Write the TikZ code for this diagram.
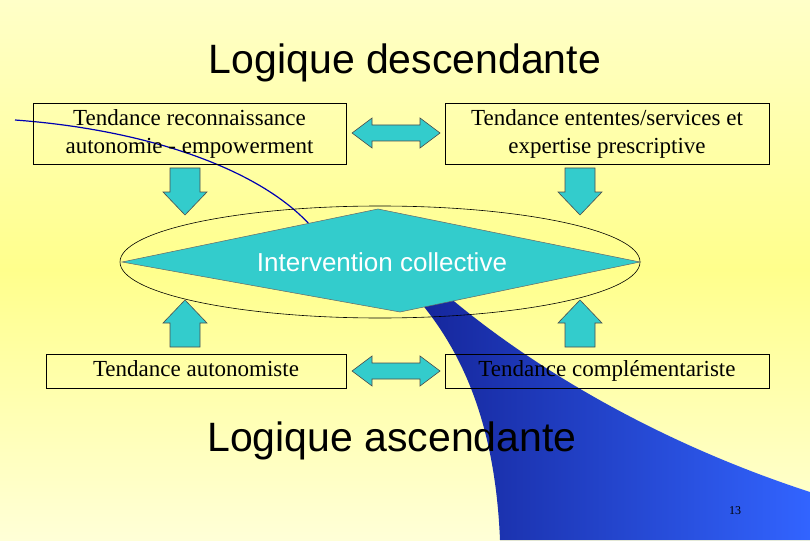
\documentclass[tikz,border=0pt]{standalone}
\usepackage{fontspec}
\setmainfont{Liberation Serif}
\setsansfont{Liberation Sans}
\begin{document}
\begin{tikzpicture}[x=1pt,y=-1pt,
 box/.style={draw=black,line width=0.6pt,font=\fontsize{23}{28}\selectfont,align=center,inner sep=0pt}]
\definecolor{tq}{HTML}{33CCCC}
\shade[top color={rgb,255:red,255;green,255;blue,200},bottom color={rgb,255:red,255;green,255;blue,140}] (0,0) rectangle (810,270);
\shade[top color={rgb,255:red,255;green,255;blue,140},bottom color={rgb,255:red,255;green,255;blue,215}] (0,270) rectangle (810,540);
\useasboundingbox (0,0) rectangle (810,540);
% swoosh
\draw[blue!70!black,line width=1.2pt] (15,120) .. controls (150,130) and (260,170) .. (310,225);
\shade[left color={rgb,255:red,20;green,35;blue,150},right color={rgb,255:red,50;green,100;blue,255}]
 (400,280) .. controls (460,340) and (495,420) .. (500,540) -- (810,540) -- (810,492)
 .. controls (650,440) and (520,360) .. (435,285) -- cycle;
% boxes
\node[box,minimum width=313,minimum height=61] (tl) at (189.5,134) {Tendance reconnaissance\\autonomie - empowerment};
\node[box,minimum width=324,minimum height=61] (tr) at (607,134) {Tendance ententes/services et\\expertise prescriptive};
\node[box,minimum width=300,minimum height=34,text height=16pt,text depth=5pt] (bl) at (196,371) {Tendance autonomiste};
\node[box,minimum width=324,minimum height=34,text height=16pt,text depth=5pt] (br) at (607,371) {Tendance complémentariste};
% ellipse and diamond
\draw[black,line width=0.6pt] (380,262) ellipse [x radius=260,y radius=56];
\coordinate (dL) at (122,262); \coordinate (dR) at (640,262);
\coordinate (dT) at (378,209); \coordinate (dB) at (400,312);
\fill[tq,draw=black!60,line width=0.5pt] (dL) -- (dT) -- (dR) -- (dB) -- cycle;
\node[font=\sffamily\fontsize{26}{30}\selectfont,text=white] (ic) at (382,262) {Intervention collective};
% arrows
\foreach \y in {133,371}{
 \fill[tq,draw=black!70,line width=0.6pt] (352,\y) -- (372,\y-15) -- (372,\y-8) -- (420,\y-8) -- (420,\y-15) -- (440,\y) -- (420,\y+15) -- (420,\y+8) -- (372,\y+8) -- (372,\y+15) -- cycle;}
\foreach \x in {185,580}{
 \fill[tq,draw=black!70,line width=0.6pt] (\x-15,168) -- (\x+15,168) -- (\x+15,192) -- (\x+22,192) -- (\x,215) -- (\x-22,192) -- (\x-15,192) -- cycle;
 \fill[tq,draw=black!70,line width=0.6pt] (\x-15,347) -- (\x+15,347) -- (\x+15,323) -- (\x+22,323) -- (\x,300) -- (\x-22,323) -- (\x-15,323) -- cycle;}
% titles
\node[font=\sffamily\fontsize{41}{45}\selectfont] (t1) at (405,63) {Logique descendante};
\node[font=\sffamily\fontsize{41}{45}\selectfont] (t2) at (392,441) {Logique ascendante};
\node[font=\fontsize{12}{14}\selectfont] (pg) at (735,511) {13};
\end{tikzpicture}
\end{document}
